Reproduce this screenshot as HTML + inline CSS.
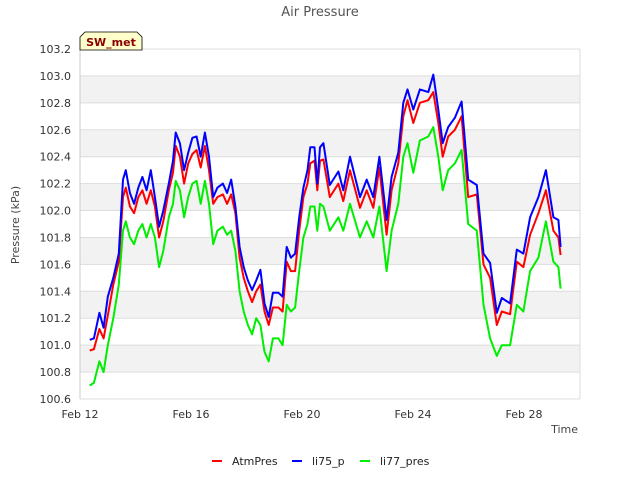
<!DOCTYPE html>
<html><head><meta charset="utf-8">
<style>
body{margin:0;background:#fff;}
svg{display:block;font-family:"DejaVu Sans","Liberation Sans",sans-serif;}
</style></head>
<body>
<svg id="chart" width="640" height="480" viewBox="0 0 640 480">
<text x="320" y="16" text-anchor="middle" font-size="13" fill="#555">Air Pressure</text>
<g id="grid"></g>
<g id="yticks"></g>
<g id="xticks"></g>
<g id="series"></g>
<text transform="translate(19,225) rotate(-90)" text-anchor="middle" font-size="11" fill="#444">Pressure (kPa)</text>
<text x="578" y="433" text-anchor="end" font-size="11" fill="#444">Time</text>
<g>
<path d="M80,50 L80,37 L85,32 L137,32 L142,37 L142,50 Z" fill="#ffffcc" stroke="#000" stroke-width="0.8"/>
<text x="111" y="46" text-anchor="middle" font-size="11" font-weight="bold" fill="#8b0000">SW_met</text>
</g>
<g>
<g><line x1="212" y1="461" x2="222" y2="461" stroke="#ff0000" stroke-width="2"/><text x="232" y="465" font-size="11" fill="#222">AtmPres</text></g>
<g><line x1="292" y1="461" x2="302" y2="461" stroke="#0000ff" stroke-width="2"/><text x="312" y="465" font-size="11" fill="#222">li75_p</text></g>
<g><line x1="360" y1="461" x2="370" y2="461" stroke="#00ee00" stroke-width="2"/><text x="380" y="465" font-size="11" fill="#222">li77_pres</text></g>
</g>
</svg>
<script>
const days = [0.35,0.5,0.7,0.85,1.0,1.2,1.4,1.55,1.65,1.8,1.95,2.1,2.25,2.4,2.55,2.7,2.85,3.0,3.2,3.35,3.45,3.6,3.75,3.9,4.05,4.2,4.35,4.5,4.65,4.8,4.95,5.15,5.3,5.45,5.6,5.75,5.9,6.05,6.2,6.35,6.5,6.65,6.8,6.95,7.15,7.3,7.45,7.6,7.75,7.9,8.05,8.2,8.3,8.45,8.55,8.65,8.77,9.0,9.31,9.49,9.73,10.09,10.33,10.57,10.79,11.05,11.23,11.47,11.65,11.8,12.01,12.25,12.55,12.73,12.91,13.07,13.27,13.51,13.75,13.99,14.3,14.54,14.78,15.02,15.2,15.5,15.74,15.98,16.22,16.52,16.79,17.06,17.24,17.32];
const li75 = [101.04,101.05,101.24,101.13,101.36,101.50,101.68,102.23,102.30,102.13,102.05,102.17,102.25,102.15,102.30,102.10,101.88,102.00,102.20,102.37,102.58,102.50,102.30,102.43,102.54,102.55,102.40,102.58,102.40,102.10,102.17,102.20,102.13,102.23,102.03,101.73,101.58,101.48,101.41,101.48,101.56,101.31,101.21,101.39,101.39,101.36,101.73,101.65,101.68,101.95,102.17,102.30,102.47,102.47,102.20,102.47,102.50,102.19,102.29,102.15,102.40,102.10,102.23,102.10,102.40,101.93,102.25,102.43,102.80,102.90,102.75,102.90,102.88,103.01,102.75,102.50,102.62,102.69,102.81,102.23,102.19,101.68,101.61,101.24,101.35,101.31,101.71,101.68,101.95,102.10,102.30,101.95,101.93,101.73];
const atm = [100.96,100.97,101.12,101.05,101.22,101.45,101.62,102.10,102.17,102.03,101.98,102.10,102.15,102.05,102.15,102.03,101.80,101.92,102.15,102.28,102.48,102.40,102.20,102.35,102.42,102.45,102.32,102.48,102.30,102.05,102.10,102.12,102.05,102.12,101.98,101.65,101.50,101.40,101.32,101.40,101.45,101.25,101.15,101.28,101.28,101.25,101.62,101.55,101.55,101.85,102.10,102.20,102.35,102.37,102.15,102.37,102.38,102.10,102.20,102.07,102.30,102.02,102.15,102.02,102.32,101.82,102.15,102.35,102.70,102.82,102.65,102.80,102.82,102.88,102.65,102.40,102.55,102.60,102.70,102.10,102.12,101.60,101.50,101.15,101.25,101.23,101.62,101.58,101.82,101.98,102.15,101.85,101.80,101.67];
const li77 = [100.70,100.72,100.88,100.80,101.00,101.20,101.45,101.85,101.92,101.80,101.75,101.85,101.90,101.80,101.90,101.80,101.58,101.70,101.95,102.05,102.22,102.15,101.95,102.10,102.20,102.22,102.05,102.22,102.05,101.75,101.85,101.88,101.82,101.85,101.70,101.40,101.25,101.15,101.08,101.20,101.15,100.95,100.88,101.05,101.05,101.00,101.30,101.25,101.28,101.55,101.80,101.90,102.03,102.03,101.85,102.05,102.03,101.85,101.95,101.85,102.05,101.80,101.92,101.80,102.03,101.55,101.85,102.05,102.40,102.50,102.28,102.52,102.55,102.62,102.40,102.15,102.30,102.35,102.45,101.90,101.85,101.30,101.05,100.92,101.00,101.00,101.30,101.25,101.55,101.65,101.92,101.62,101.58,101.42];
const yTicks = [100.6,100.8,101.0,101.2,101.4,101.6,101.8,102.0,102.2,102.4,102.6,102.8,103.0,103.2];
const xTickDays = [0,4,8,12,16];
const xTickLabels = ["Feb 12","Feb 16","Feb 20","Feb 24","Feb 28"];

const X0=80,X1=580,Y0=399,Y1=49;
const yMin=100.6,yMax=103.2,dayPx=27.75;
const xs=d=>X0+d*dayPx;
const ys=v=>Y0-(v-yMin)/(yMax-yMin)*(Y0-Y1);
const NS="http://www.w3.org/2000/svg";
function mk(tag,attrs,parent){const e=document.createElementNS(NS,tag);for(const k in attrs)e.setAttribute(k,attrs[k]);parent.appendChild(e);return e;}
const grid=document.getElementById('grid'),yt=document.getElementById('yticks'),xt=document.getElementById('xticks'),ser=document.getElementById('series');
for(let i=0;i<yTicks.length-1;i++){
  if(i%2===1){const r=mk('rect',{x:X0,y:ys(yTicks[i+1]),width:X1-X0,height:ys(yTicks[i])-ys(yTicks[i+1]),fill:'#f2f2f2'},grid);
  
  }
}
yTicks.forEach(v=>{
  const l=mk('line',{x1:X0,x2:X1,y1:ys(v),y2:ys(v),stroke:'#ddd','stroke-width':1},grid);
  
  
  const t=mk('text',{x:X0-9,y:ys(v)+4,'text-anchor':'end','font-size':11,fill:'#333'},yt);
  t.textContent=v.toFixed(1);
  
  
});
mk('line',{x1:X0,x2:X0,y1:Y1,y2:Y0,stroke:'#ccc'},grid);
mk('line',{x1:X1,x2:X1,y1:Y1,y2:Y0,stroke:'#ddd'},grid);
xTickDays.forEach((d,i)=>{
  const t=mk('text',{x:xs(d),y:Y0+19,'text-anchor':'middle','font-size':11,fill:'#333'},xt);
  t.textContent=xTickLabels[i];
  
  
});
function line(vals,color,name){
  const p=mk('polyline',{points:vals.map((v,i)=>xs(days[i]).toFixed(1)+','+ys(v).toFixed(1)).join(' '),fill:'none',stroke:color,'stroke-width':2,'stroke-linejoin':'round'},ser);
  
  
}
line(li77,'#00ee00','line-li77-pres');
line(atm,'#ff0000','line-atmpres');
line(li75,'#0000ff','line-li75-p');
</script>
</body></html>
